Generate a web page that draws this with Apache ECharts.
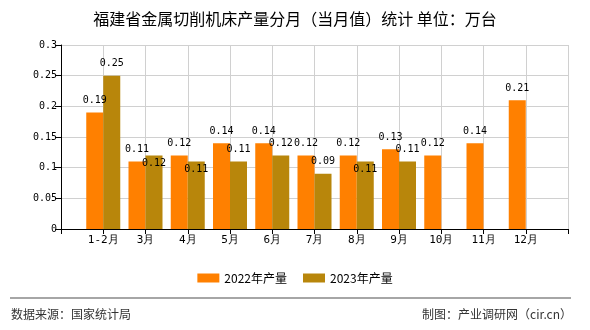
<!DOCTYPE html>
<html>
<head>
<meta charset="utf-8">
<script src="https://cdn.jsdelivr.net/npm/echarts@6/dist/echarts.min.js"></script>
<style>html,body{margin:0;padding:0;background:#fff}#c{width:590px;height:330px}</style>
</head>
<body>
<div id="c"></div>
<script>
const months = ['1-2月','3月','4月','5月','6月','7月','8月','9月','10月','11月','12月'];
const values2022 = [0.19, 0.11, 0.12, 0.14, 0.14, 0.12, 0.12, 0.13, 0.12, 0.14, 0.21];
const values2023 = [0.25, 0.12, 0.11, 0.11, 0.12, 0.09, 0.11, 0.11, null, null, null];
const seriesNames = ['2022年产量', '2023年产量'];
const yTicks = [0, 0.05, 0.1, 0.15, 0.2, 0.25, 0.3];
const titleText = '福建省金属切削机床产量分月（当月值）统计 单位：万台';
const sourceText = '数据来源：国家统计局';
const creditText = '制图：产业调研网（cir.cn）';
// months whose 2023 label sits inside the bar (overlap avoidance in the original)
const insideLabel2023 = ['3月', '4月', '8月'];

const numFont = 'DejaVu Sans Mono';
const cats = [''].concat(months, ['']);
function pad(arr) { return [null].concat(arr, [null]); }

function buildData(arr, insideList) {
  return pad(arr).map((v, i) => {
    if (v === null) return '-';
    const name = cats[i];
    if (insideList && insideList.indexOf(name) >= 0) {
      return { value: v, label: { position: 'insideTop', distance: 3 } };
    }
    return v;
  });
}

const chart = echarts.init(document.getElementById('c'));
chart.setOption({
  backgroundColor: '#fff',
  animation: false,
  title: {
    text: titleText, left: 'center', top: 6,
    textStyle: { fontFamily: 'Noto Sans CJK SC', fontSize: 16, fontWeight: 'normal', color: '#000' }
  },
  legend: {
    data: seriesNames, left: 'center', top: 267,
    itemWidth: 22, itemHeight: 9, itemGap: 16,
    icon: 'rect',
    textStyle: { fontFamily: 'Noto Sans CJK SC', fontSize: 12, color: '#000' }
  },
  grid: { left: 61, right: 22, top: 45, bottom: 101 },
  xAxis: {
    type: 'category', data: cats, boundaryGap: false,
    axisLine: { lineStyle: { color: '#000', width: 1 } },
    axisTick: { show: true, length: 5, alignWithLabel: true, interval: 0, lineStyle: { color: '#000' } },
    axisLabel: { interval: 0, color: '#000', fontFamily: numFont, fontSize: 11, margin: 6 },
    splitLine: { show: true, interval: 0, lineStyle: { color: '#d0d0d0', width: 1 } }
  },
  yAxis: {
    type: 'value', min: yTicks[0], max: yTicks[yTicks.length - 1], interval: 0.05,
    axisLine: { show: true, lineStyle: { color: '#000', width: 1 } },
    axisTick: { show: true, length: 6, lineStyle: { color: '#000' } },
    axisLabel: { color: '#000', fontFamily: numFont, fontSize: 10, margin: 4 },
    splitLine: { show: true, lineStyle: { color: '#d0d0d0', width: 1 } }
  },
  series: [
    {
      name: seriesNames[0], type: 'bar', barWidth: 17, barGap: '0%',
      itemStyle: { color: '#FF8000' },
      label: { show: true, position: 'top', distance: 7, color: '#000', fontFamily: numFont, fontSize: 10 },
      data: buildData(values2022)
    },
    {
      name: seriesNames[1], type: 'bar', barWidth: 17, barGap: '0%',
      itemStyle: { color: '#B8860B' },
      label: { show: true, position: 'top', distance: 7, color: '#000', fontFamily: numFont, fontSize: 10 },
      data: buildData(values2023, insideLabel2023)
    }
  ],
  graphic: [
    { type: 'line', shape: { x1: 10, y1: 298, x2: 571, y2: 298 }, style: { stroke: '#888', lineWidth: 1.5 } },
    { type: 'text', left: 11, top: 308, style: { text: sourceText, fill: '#333', font: '12px "Noto Sans CJK SC"' } },
    { type: 'text', right: 18, top: 308, style: { text: creditText, fill: '#333', font: '12px "Noto Sans CJK SC"' } }
  ]
});
</script>
</body>
</html>
